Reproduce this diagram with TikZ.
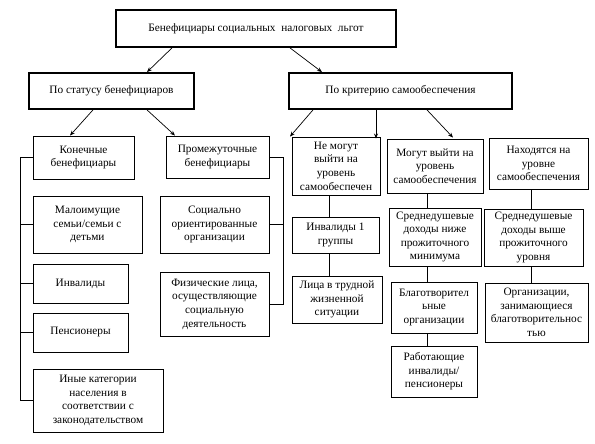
\documentclass[tikz,border=0pt]{standalone}
\usepackage{fontspec}
\setmainfont{Liberation Serif}
\usetikzlibrary{arrows.meta}
\begin{document}
\begin{tikzpicture}[x=1pt,y=-1pt,
  box/.style={draw,line width=0.9pt,align=center,inner sep=1pt,font=\fontsize{11.3}{13.6}\selectfont},
  tbox/.style={box,line width=1.8pt},
  arr/.style={-{Stealth[length=5pt,width=4pt]},line width=0.7pt},
  ln/.style={line width=0.8pt}]
\useasboundingbox (0,0) rectangle (595,444);
% top level
\node[tbox,minimum width=280pt,minimum height=37pt] (top) at (256,28.5) {Бенефициары социальных\ \ налоговых\ \ льгот};
\node[tbox,minimum width=165pt,minimum height=36pt] (L) at (111.5,91) {По статусу бенефициаров};
\node[tbox,minimum width=223pt,minimum height=36pt] (R) at (400.5,91) {По критерию самообеспечения};
% left branch
\node[box,minimum width=101pt,minimum height=43pt] (kon) at (83.5,157.5) {Конечные\\бенефициары};
\node[box,minimum width=103pt,minimum height=42pt] (prom) at (217.5,157) {Промежуточные\\бенефициары};
\node[box,minimum width=109pt,minimum height=57pt] (mal) at (87.5,224.5) {Малоимущие\\семьи/семьи с\\детьми};
\node[box,minimum width=95pt,minimum height=39pt] (inv) at (80.5,283.5) {Инвалиды};
\node[box,minimum width=95pt,minimum height=39pt] (pen) at (80.5,332.5) {Пенсионеры};
\node[box,minimum width=130pt,minimum height=63pt] (ine) at (98,400.5) {Иные категории\\населения в\\соответствии с\\законодательством};
\node[box,minimum width=109pt,minimum height=57pt] (soc) at (214.5,224.5) {Социально\\ориентированные\\организации};
\node[box,minimum width=109pt,minimum height=64pt] (fiz) at (214.5,304) {Физические лица,\\осуществляющие\\социальную\\деятельность};
% right branch
\node[box,minimum width=88pt,minimum height=58pt] (nem) at (336,166) {Не могут\\выйти на\\уровень\\самообеспечен};
\node[box,minimum width=96pt,minimum height=54pt] (mog) at (435,166) {Могут выйти на\\уровень\\самообеспечения};
\node[box,minimum width=99pt,minimum height=51pt] (nah) at (538.5,163.5) {Находятся на\\уровне\\самообеспечения};
\node[box,minimum width=87pt,minimum height=36pt] (inv1) at (335.5,235) {Инвалиды 1\\группы};
\node[box,minimum width=90pt,minimum height=47pt] (lica) at (337,299.5) {Лица в трудной\\жизненной\\ситуации};
\node[box,minimum width=92pt,minimum height=58pt] (sr1) at (435,237) {Среднедушевые\\доходы ниже\\прожиточного\\минимума};
\node[box,minimum width=86pt,minimum height=51pt] (bla) at (434,307.5) {Благотворител\\ьные\\организации};
\node[box,minimum width=86pt,minimum height=51pt] (rab) at (434,371.5) {Работающие\\инвалиды/\\пенсионеры};
\node[box,minimum width=99pt,minimum height=57pt] (sr2) at (533.5,237.5) {Среднедушевые\\доходы выше\\прожиточного\\уровня};
\node[box,minimum width=103pt,minimum height=59pt] (org) at (536.5,312.5) {Организации,\\занимающиеся\\благотворительнос\\тью};
% helper columns
\coordinate (lb) at (20,0);
\coordinate (rb) at (283,0);
\coordinate (c1) at (329,0);
\coordinate (c2) at (427,0);
\coordinate (c3) at (531,0);
% arrows
\draw[arr] ([xshift=-84pt]top.south) -- ([xshift=35.5pt]L.north);
\draw[arr] ([xshift=34pt]top.south) -- ([xshift=-78.5pt]R.north);
\draw[arr] ([xshift=-18.5pt]L.south) -- ([xshift=-13.5pt]kon.north);
\draw[arr] ([xshift=35.5pt]L.south) -- ([xshift=-42.5pt]prom.north);
\draw[arr] ([xshift=-87.5pt]R.south) -- ([xshift=-46pt]nem.north);
\draw[arr] ([xshift=-24.5pt]R.south) -- ([xshift=-59pt]mog.north);
\draw[arr] ([xshift=26.5pt]R.south) -- ([xshift=-85.5pt]nah.north);
% left bracket
\draw[ln] (kon.west) -- (kon.west -| lb) |- (ine.west);
\draw[ln] (mal.west) -- (mal.west -| lb);
\draw[ln] (inv.west) -- (inv.west -| lb);
\draw[ln] (pen.west) -- (pen.west -| lb);
% right bracket
\draw[ln] (prom.east) -- (prom.east -| rb) |- (fiz.east);
\draw[ln] (soc.east) -- (soc.east -| rb);
% vertical chains
\draw[ln] (nem.south -| c1) -- (inv1.north -| c1);
\draw[ln] (inv1.south -| c1) -- (lica.north -| c1);
\draw[ln] (mog.south -| c2) -- (sr1.north -| c2);
\draw[ln] (sr1.south -| c2) -- (bla.north -| c2);
\draw[ln] (bla.south -| c2) -- (rab.north -| c2);
\draw[ln] (nah.south -| c3) -- (sr2.north -| c3);
\draw[ln] (sr2.south -| c3) -- (org.north -| c3);
\end{tikzpicture}
\end{document}
